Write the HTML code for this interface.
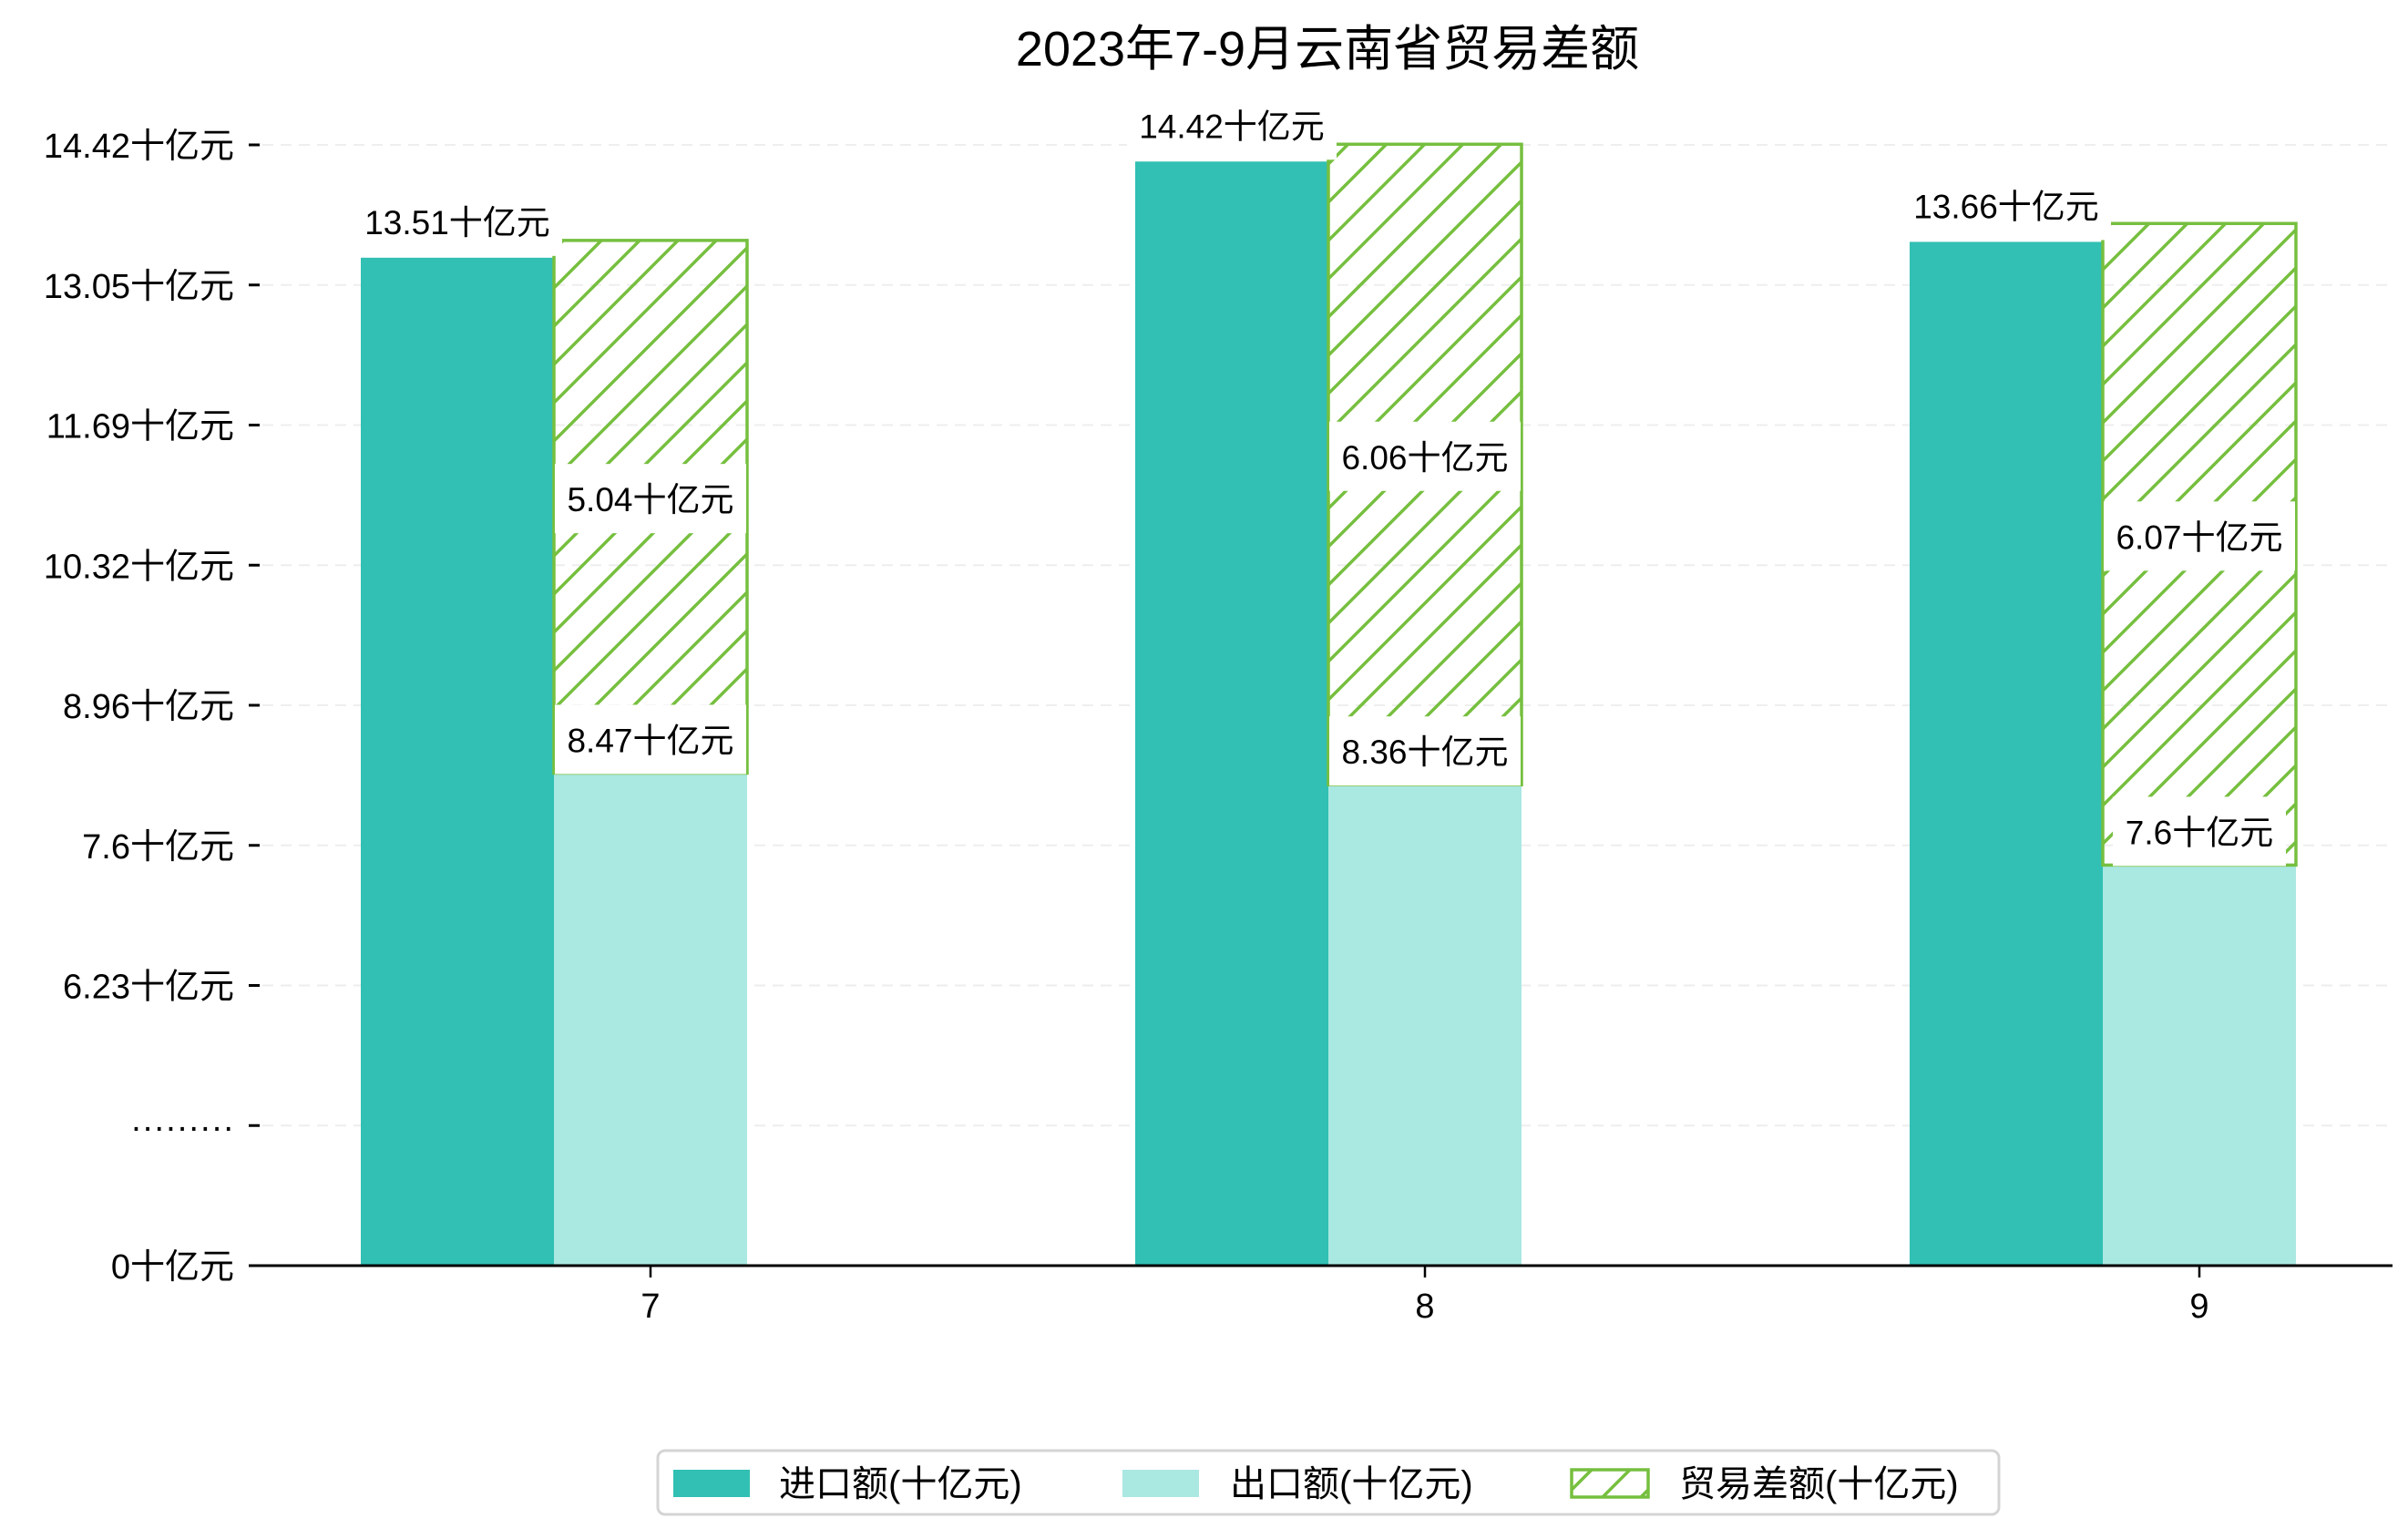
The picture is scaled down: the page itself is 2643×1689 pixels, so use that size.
<!DOCTYPE html>
<html><head><meta charset="utf-8"><style>
html,body{margin:0;padding:0;background:#fff;}
svg{display:block;font-family:"Liberation Sans","Noto Sans CJK SC",sans-serif;}
</style></head><body>
<svg id="chart" width="2643" height="1689" viewBox="0 0 2643 1689" xmlns="http://www.w3.org/2000/svg">
<defs>
<pattern id="hatch" patternUnits="userSpaceOnUse" width="42" height="42">
<path d="M-10,52 L52,-10 M-52,52 L10,-10 M32,52 L94,-10" stroke="#76bf3f" stroke-width="3.5"/>
</pattern>
</defs>
<text x="1457" y="72" font-size="54" text-anchor="middle" fill="#000">2023年7-9月云南省贸易差额</text>
<g id="grid"></g>
<g id="bars"></g>
<g id="labels"></g>
<line x1="276" y1="1389" x2="2626" y2="1389" stroke="#000" stroke-width="3"/>
<g id="legend">
<rect x="722" y="1592" width="1472" height="70" rx="8" fill="#fff" stroke="#d4d4d4" stroke-width="3"/>
<g>
<rect x="739" y="1613" width="84" height="30" fill="#31c0b3"/>
<text x="855" y="1642" font-size="40">进口额(十亿元)</text>
</g>
<g>
<rect x="1232" y="1613" width="84" height="30" fill="#aae8e2"/>
<text x="1350" y="1642" font-size="40">出口额(十亿元)</text>
</g>
<g>
<rect x="1725" y="1613" width="84" height="30" fill="url(#hatch)" stroke="#76bf3f" stroke-width="3.5"/>
<text x="1843" y="1642" font-size="40">贸易差额(十亿元)</text>
</g>
</g>
</svg>
<script>
const categories = ["7", "8", "9"];
const importValues = [13.51, 14.42, 13.66];
const exportValues = [8.47, 8.36, 7.6];
const balanceValues = [5.04, 6.06, 6.07];
const yTickLabels = ["0十亿元", "·········", "6.23十亿元", "7.6十亿元", "8.96十亿元", "10.32十亿元", "11.69十亿元", "13.05十亿元", "14.42十亿元"];

const NS = "http://www.w3.org/2000/svg";
const svg = document.getElementById("chart");
const gGrid = document.getElementById("grid");
const gBars = document.getElementById("bars");
const gLabels = document.getElementById("labels");
const axisY = 1389, plotTop = 159;
function yScale(v) { return 1831 - 116 * v; }
function yBar(v) { return Math.min(axisY, yScale(v)); }
function tickY(i) { return axisY - i * (axisY - plotTop) / (yTickLabels.length - 1); }
function xGroup(i) { return 396 + i * 850; }
const barW = 212;
function mk(tag, attrs, parent) {
  const el = document.createElementNS(NS, tag);
  for (const k in attrs) el.setAttribute(k, attrs[k]);
  parent.appendChild(el);
  return el;
}

yTickLabels.forEach((lab, i) => {
  const y = tickY(i);
  if (i > 0) {
    const g = mk("line", {x1: 288, y1: y, x2: 2626, y2: y, stroke: "#eeeeee", "stroke-width": 2, "stroke-dasharray": "12,8"}, gGrid);
    
    
  }
  const t = mk("line", {x1: 273, y1: y, x2: 285, y2: y, stroke: "#000", "stroke-width": 3}, gGrid);
  
  
  const tx = mk("text", {x: 257, y: y + 14, "font-size": 38, "text-anchor": "end", fill: "#000"}, gGrid);
  tx.textContent = lab;
  
  
});

function label(text, cx, cy, boxed) {
  const w = text.length * 20 + 70;
  if (boxed) {
    const r = mk("rect", {x: cx - w / 2, y: cy - 38, width: w, height: 76, fill: "#fff"}, gLabels);
    
    
  }
  const t = mk("text", {x: cx, y: cy + 14, "font-size": 37, "text-anchor": "middle", fill: "#000"}, gLabels);
  t.textContent = text;
  
  
}

categories.forEach((c, i) => {
  const x0 = xGroup(i), x1 = x0 + barW;
  const impTop = yBar(importValues[i]) + 19;
  const r1 = mk("rect", {x: x0, y: impTop, width: barW, height: axisY - impTop, fill: "#31c0b3"}, gBars);
  
  
  const expTop = yBar(exportValues[i]);
  const r2 = mk("rect", {x: x1, y: expTop, width: barW, height: axisY - expTop, fill: "#aae8e2"}, gBars);
  
  
  const balTop = yBar(exportValues[i] + balanceValues[i]);
  const r3 = mk("rect", {x: x1, y: balTop, width: barW, height: expTop - balTop, fill: "url(#hatch)", stroke: "#76bf3f", "stroke-width": 3.5}, gBars);
  
  
  const xt = mk("line", {x1: x1 + barW / 2, y1: axisY, x2: x1 + barW / 2, y2: axisY + 13, stroke: "#000", "stroke-width": 2.5}, gBars);
  
  
  const xl = mk("text", {x: x1 + barW / 2, y: axisY + 57, "font-size": 38, "text-anchor": "middle", fill: "#000"}, gBars);
  xl.textContent = c;
  
  
  label(importValues[i] + "十亿元", x0 + barW / 2, impTop - 40, true);
  label(balanceValues[i] + "十亿元", x1 + barW / 2, (balTop + expTop) / 2 - 9, true);
  label(exportValues[i] + "十亿元", x1 + barW / 2, expTop - 37, true);
});
</script>
</body></html>
